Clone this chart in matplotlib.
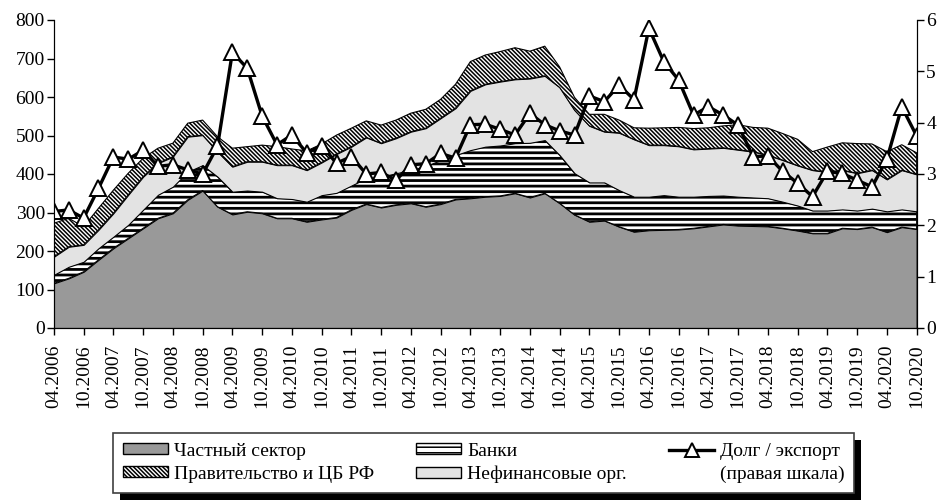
import numpy as np
import matplotlib
matplotlib.use('Agg')
import matplotlib.pyplot as plt
from matplotlib.patches import Patch, Rectangle
from matplotlib.lines import Line2D

plt.rcParams['font.family'] = ['Liberation Serif', 'DejaVu Serif']

# квартальные данные 04.2006 - 10.2020, млрд долл. (верхние границы слоёв)
private_top = [116, 129, 146, 177, 207, 233, 259, 285, 298, 333, 357, 315, 295, 302, 298, 285,
               285, 276, 282, 287, 307, 322, 313, 320, 324, 315, 322, 334, 337, 341, 343, 350,
               339, 350, 324, 294, 276, 279, 263, 250, 254, 255, 256, 259, 264, 269, 266, 265,
               264, 259, 253, 246, 246, 259, 257, 262, 249, 262, 257]
banks_top = [138, 159, 172, 207, 237, 268, 307, 346, 367, 406, 423, 393, 354, 357, 354, 337,
             335, 328, 345, 351, 370, 389, 393, 402, 410, 421, 436, 449, 462, 471, 474, 480,
             481, 488, 449, 402, 378, 378, 358, 341, 341, 345, 341, 341, 343, 344, 341, 339,
             337, 328, 318, 305, 305, 308, 305, 310, 303, 308, 303]
nonfin_top = [185, 211, 216, 255, 298, 346, 393, 428, 445, 497, 501, 458, 419, 432, 432, 423,
              423, 410, 430, 452, 471, 495, 480, 493, 510, 519, 545, 571, 616, 633, 640, 646,
              648, 655, 625, 566, 525, 510, 507, 490, 475, 475, 472, 464, 466, 468, 463, 458,
              449, 436, 422, 410, 405, 410, 402, 410, 386, 410, 399]
gov_top = [272, 285, 263, 311, 358, 402, 441, 467, 480, 532, 540, 497, 467, 471, 475, 471,
           465, 460, 478, 501, 519, 538, 527, 540, 558, 568, 594, 633, 692, 709, 718, 728,
           719, 732, 678, 599, 555, 555, 540, 520, 519, 520, 521, 518, 520, 525, 528, 521,
           519, 505, 490, 458, 470, 481, 479, 478, 458, 476, 455]
# долг / экспорт (правая шкала)
debt_export = [2.27, 2.30, 2.14, 2.72, 3.33, 3.29, 3.46, 3.15, 3.18, 3.08, 3.00, 3.54, 5.37, 5.06,
               4.13, 3.57, 3.76, 3.41, 3.55, 3.21, 3.34, 3.00, 3.03, 2.88, 3.18, 3.20, 3.40, 3.31,
               3.96, 3.97, 3.87, 3.76, 4.18, 3.96, 3.84, 3.76, 4.52, 4.41, 4.73, 4.45, 5.84, 5.19,
               4.83, 4.15, 4.31, 4.15, 3.95, 3.34, 3.35, 3.05, 2.82, 2.56, 3.05, 3.01, 2.88, 2.75,
               3.29, 4.31, 3.74]
tick_labels = [f'{m}.{y}' for y in range(2006, 2021) for m in ('04', '10')]

x = np.arange(len(debt_export))
zero = np.zeros(len(x))
gov_hatch = '\\' * 8
bank_hatch = '---'

fig = plt.figure(figsize=(9.45, 5.0), dpi=100)
ax = fig.add_axes([0.057, 0.344, 0.913, 0.616])

ax.fill_between(x, zero, private_top, facecolor='#999999', edgecolor='black', linewidth=0.8)
plt.rcParams['hatch.linewidth'] = 2.0
ax.fill_between(x, private_top, banks_top, facecolor='white', edgecolor='black',
                hatch=bank_hatch, linewidth=0.8)
ax.fill_between(x, banks_top, nonfin_top, facecolor='#e3e3e3', edgecolor='black', linewidth=0.8)
plt.rcParams['hatch.linewidth'] = 1.1
ax.fill_between(x, nonfin_top, gov_top, facecolor='white', edgecolor='black',
                hatch=gov_hatch, linewidth=0.8)

ax.set_xlim(0, len(x) - 1)
ax.set_ylim(0, 800)
ax.set_yticks(range(0, 801, 100))
ax.set_xticks(x[::2])
ax.set_xticklabels(tick_labels, rotation=90, fontsize=14)
ax.tick_params(axis='y', labelsize=14, length=5, width=1, pad=1.5)
ax.tick_params(axis='x', length=5, width=1, pad=7)
ax.spines['top'].set_visible(False)

ax2 = ax.twinx()
ax2.plot(x, debt_export, color='black', linewidth=2.4, marker='^', markersize=11,
         markerfacecolor='white', markeredgecolor='black', markeredgewidth=1.4)
ax2.set_ylim(0, 6)
ax2.set_yticks(range(0, 7))
ax2.tick_params(axis='y', labelsize=14, length=5, width=1, pad=2)
ax2.spines['top'].set_visible(False)

handles = [
    Patch(facecolor='#999999', edgecolor='black', label='Частный сектор'),
    Patch(facecolor='white', edgecolor='black', hatch=gov_hatch, label='Правительство и ЦБ РФ'),
    Patch(facecolor='white', edgecolor='black', hatch=bank_hatch, label='Банки'),
    Patch(facecolor='#e3e3e3', edgecolor='black', label='Нефинансовые орг.'),
    Line2D([], [], color='black', linewidth=2.4, marker='^', markersize=10,
           markerfacecolor='white', markeredgecolor='black', markeredgewidth=1.4,
           label='Долг / экспорт'),
    Line2D([], [], color='none', label='(правая шкала)'),
]
leg = fig.legend(handles=handles, loc='center', bbox_to_anchor=(0.512, 0.074), ncol=3,
                 fontsize=14, frameon=True, fancybox=False, edgecolor='#404040',
                 framealpha=1, columnspacing=2.2, handlelength=2.3, handleheight=0.5,
                 handletextpad=0.3, borderpad=0.5, labelspacing=0.3)
leg.get_frame().set_linewidth(1.2)

# тень легенды
fig.canvas.draw()
bb = leg.get_window_extent().transformed(fig.transFigure.inverted())
fig.add_artist(Rectangle((bb.x0 + 7 / 945, bb.y0 - 7 / 500), bb.width, bb.height,
                         transform=fig.transFigure, facecolor='black', edgecolor='none',
                         zorder=leg.get_zorder() - 0.1))

fig.savefig('out.png', dpi=100)
